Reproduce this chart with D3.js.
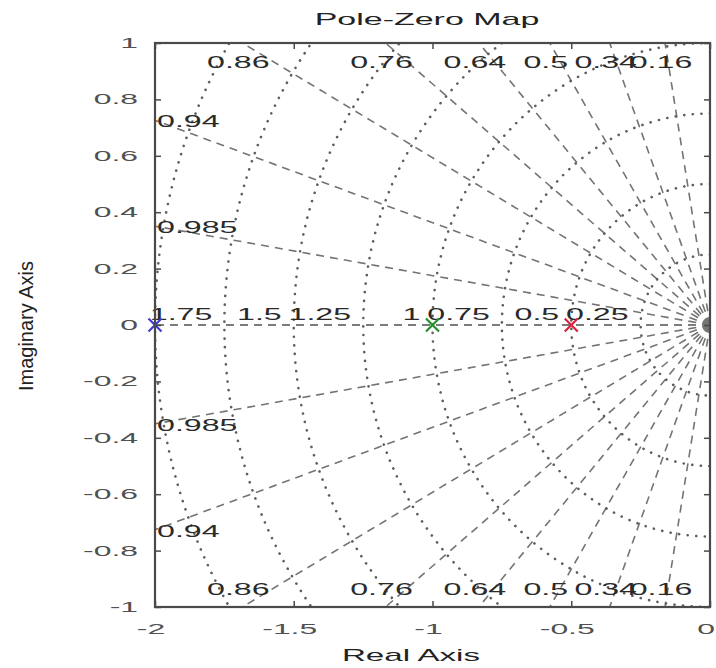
<!DOCTYPE html>
<html>
<head>
<meta charset="utf-8">
<script src="https://cdn.jsdelivr.net/npm/d3@7"></script>
<style>
  body { margin: 0; background: #fff; }
  svg { display: block; font-family: "Liberation Sans", Arial, sans-serif; }
</style>
</head>
<body>
<div id="chart"></div>
<script>
// pole-zero map with s-plane grid
var xTicks = [-2, -1.5, -1, -0.5, 0];
var yTicks = [-1, -0.8, -0.6, -0.4, -0.2, 0, 0.2, 0.4, 0.6, 0.8, 1];
var zetaLines = [0, 0.16, 0.34, 0.5, 0.64, 0.76, 0.86, 0.94, 0.985, 1];
var zetaLabels = ["0.16", "0.34", "0.5", "0.64", "0.76", "0.86", "0.94", "0.985"];
var wnCircles = [0.25, 0.5, 0.75, 1, 1.25, 1.5, 1.75, 2];
var wnLabels = ["0.25", "0.5", "0.75", "1", "1.25", "1.5", "1.75"];
var poleRe = [-2, -1, -0.5];
var poleIm = [0, 0, 0];
var poleColors = ["#3c3cd6", "#22922a", "#e0203c"];

var W = 716, H = 668;
var pL = 155, pR = 710, pT = 43, pB = 607;

var svg = d3.select("#chart").append("svg")
    .attr("width", W)
    .attr("height", H);

var x = d3.scaleLinear().domain([-2, 0]).range([pL, pR]);
var y = d3.scaleLinear().domain([-1, 1]).range([pB, pT]);

// the picture is wider than it is tall, so text is stretched sideways
function wideText(g, px, py, str, anchor, size, fill, sx) {
    return g.append("text")
        .attr("transform", "translate(" + px + "," + py + ") scale(" + (sx || 1.95) + ",1)")
        .attr("text-anchor", anchor)
        .attr("font-size", size)
        .attr("fill", fill)
        .text(str);
}

svg.append("clipPath").attr("id", "plotclip")
  .append("rect")
    .attr("x", pL).attr("y", pT)
    .attr("width", pR - pL).attr("height", pB - pT);

var grid = svg.append("g").attr("clip-path", "url(#plotclip)");

// constant damping lines (dashed)
var line = d3.line().x(function (d) { return x(d[0]); }).y(function (d) { return y(d[1]); });
zetaLines.forEach(function (z) {
    var s = Math.sqrt(1 - z * z);
    [1, -1].forEach(function (sign) {
        grid.append("path")
            .attr("d", line([[0, 0], [-z * 3, sign * s * 3]]))
            .attr("fill", "none")
            .attr("stroke", "#747474")
            .attr("stroke-width", 1.6)
            .attr("stroke-dasharray", "8,6");
    });
});

// constant natural frequency circles (dotted)
wnCircles.forEach(function (w) {
    var rx = x(0) - x(-w), ry = y(-w) - y(0);
    grid.append("path")
        .attr("d", "M" + x(0) + "," + y(w) + " A" + rx + "," + ry + " 0 0 0 " + x(0) + "," + y(-w))
        .attr("fill", "none")
        .attr("stroke", "#5e5e5e")
        .attr("stroke-width", 2.6)
        .attr("stroke-linecap", "round")
        .attr("stroke-dasharray", "0.1,8.5");
});

// grid labels
var labels = svg.append("g");
var gSize = 16.5, gFill = "#2a2a2a";

wnLabels.forEach(function (t) {
    var w = +t;
    wideText(labels, x(-w) - 12, y(0) - 5, t, "end", gSize, gFill);
});

zetaLabels.forEach(function (t) {
    var z = +t, s = Math.sqrt(1 - z * z);
    var xe = -z / s;
    [1, -1].forEach(function (sign) {
        if (xe >= -2) {
            wideText(labels, x(xe) - 4, sign > 0 ? pT + 25 : pB - 12, t, "middle", gSize, gFill);
        } else {
            var ye = 2 * s / z;
            wideText(labels, pL + 2, y(sign * ye) + 7, t, "start", gSize, gFill);
        }
    });
});

// poles
var sz = 6.5;
poleRe.forEach(function (re, i) {
    var cx = x(re), cy = y(poleIm[i]);
    svg.append("path")
        .attr("d", "M" + (cx - sz) + "," + (cy - sz) + "L" + (cx + sz) + "," + (cy + sz) +
                   "M" + (cx - sz) + "," + (cy + sz) + "L" + (cx + sz) + "," + (cy - sz))
        .attr("stroke", poleColors[i])
        .attr("stroke-width", 2.2)
        .attr("fill", "none");
});

// axes box with inward ticks
var axisColor = "#4a4a4a";
svg.append("rect")
    .attr("x", pL).attr("y", pT)
    .attr("width", pR - pL).attr("height", pB - pT)
    .attr("fill", "none")
    .attr("stroke", axisColor)
    .attr("stroke-width", 2.2);

var tl = 6;
svg.append("g").attr("transform", "translate(0," + pB + ")")
    .call(d3.axisBottom(x).tickValues(xTicks).tickSize(-tl).tickFormat(""))
    .call(function (g) { g.select(".domain").remove(); });
svg.append("g").attr("transform", "translate(0," + pT + ")")
    .call(d3.axisTop(x).tickValues(xTicks).tickSize(-tl).tickFormat(""))
    .call(function (g) { g.select(".domain").remove(); });
svg.append("g").attr("transform", "translate(" + pL + ",0)")
    .call(d3.axisLeft(y).tickValues(yTicks).tickSize(-tl).tickFormat(""))
    .call(function (g) { g.select(".domain").remove(); });
svg.append("g").attr("transform", "translate(" + pR + ",0)")
    .call(d3.axisRight(y).tickValues(yTicks).tickSize(-tl).tickFormat(""))
    .call(function (g) { g.select(".domain").remove(); });
svg.selectAll(".tick line").attr("stroke", axisColor).attr("stroke-width", 1.5);

// tick labels, stretched like the rest of the text
var tickLab = svg.append("g");
xTicks.forEach(function (v) {
    wideText(tickLab, x(v) - 4, pB + 27, String(v), "middle", 14.5, "#505050", 2.2);
});
yTicks.forEach(function (v) {
    wideText(tickLab, pL - 17, y(v) + 5, String(v), "end", 14.5, "#505050", 2.2);
});

// title and axis labels
wideText(svg, 427, 25, "Pole-Zero Map", "middle", 17, "#222", 2.0);
wideText(svg, 411, 661, "Real Axis", "middle", 17, "#222");

svg.append("text")
    .attr("transform", "translate(33,326) rotate(-90)")
    .attr("text-anchor", "middle")
    .attr("font-size", 20)
    .attr("fill", "#222")
    .text("Imaginary Axis");
</script>
</body>
</html>
